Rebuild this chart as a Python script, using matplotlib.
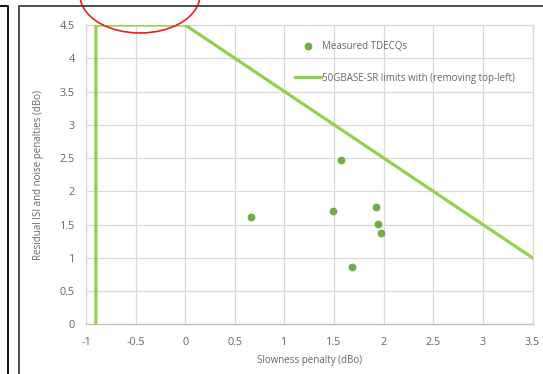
import matplotlib
matplotlib.use("Agg")
import matplotlib.pyplot as plt
from matplotlib.patches import Ellipse

# ── data ──────────────────────────────────────────────────────────────────────
tdecq_x = [0.66, 1.49, 1.57, 1.68, 1.92, 1.94, 1.97]
tdecq_y = [1.61, 1.70, 2.47, 0.86, 1.77, 1.51, 1.37]

limit_x = [-0.9, -0.9, 0.0, 3.5]
limit_y = [0.0, 4.5, 4.5, 1.0]

x_ticks = [-1, -0.5, 0, 0.5, 1, 1.5, 2, 2.5, 3, 3.5]
y_ticks = [0, 0.5, 1, 1.5, 2, 2.5, 3, 3.5, 4, 4.5]

# ── visual settings ───────────────────────────────────────────────────────────
W, H = 543, 374
text_gray = "#666666"
grid_gray = "#d9d9d9"
plt.rcParams.update({
    "font.family": ["Open Sans", "DejaVu Sans"],
    "font.size": 7,
})

fig = plt.figure(figsize=(W / 100, H / 100), dpi=100)
fig.patch.set_facecolor("white")

left, right, bottom, top = 86, 532.5, 324.3, 25
ax = fig.add_axes([left / W, 1 - bottom / H, (right - left) / W, (bottom - top) / H])

ax.plot(limit_x, limit_y, color="#92d050", lw=2.3, solid_joinstyle="miter",
        label="50GBASE-SR limits with (removing top-left)", zorder=3)
ax.plot(tdecq_x, tdecq_y, ls="none", marker="o", ms=4.6, color="#70ad47",
        mec="#70ad47", label="Measured TDECQs", zorder=4)

ax.set_xlim(-1, 3.5)
ax.set_ylim(0, 4.5)
ax.set_xticks(x_ticks)
ax.set_yticks(y_ticks)
ax.set_xticklabels([f"{v:g}" for v in x_ticks])
ax.set_yticklabels([f"{v:g}" for v in y_ticks])
ax.tick_params(length=0, colors=text_gray, labelsize=7.8)
ax.tick_params(axis="x", pad=9)
ax.tick_params(axis="y", pad=8)
ax.grid(True, color=grid_gray, lw=0.9)
ax.set_axisbelow(True)
for s in ax.spines.values():
    s.set_color(grid_gray)
    s.set_linewidth(0.9)
ax.spines["bottom"].set_color("#bfbfbf")

ax.set_xlabel("Slowness penalty (dBo)", color=text_gray, fontsize=7, labelpad=5)
ax.set_ylabel("Residual ISI and noise penalties (dBo)", color=text_gray, fontsize=7, labelpad=11)

handles, labels = ax.get_legend_handles_labels()
ax.legend(handles[::-1], labels[::-1], loc="upper left", bbox_to_anchor=(0.448, 0.975),
          frameon=False, fontsize=7, labelcolor=text_gray, handlelength=2.7,
          handletextpad=0.1, labelspacing=2.1)

# ── overlay: frames and the red ellipse (pixel coordinates) ─────────────────
ov = fig.add_axes([0, 0, 1, 1], zorder=10)
ov.set_xlim(0, W)
ov.set_ylim(H, 0)
ov.axis("off")
ov.patch.set_alpha(0)
ov.plot([0, 7.5, 7.5], [5.5, 5.5, H], color="black", lw=1.3)
ov.plot([18.5, 18.5, W], [H, 5.5, 5.5], color="#404040", lw=1.3)
ov.add_patch(Ellipse((140, -5), 120, 76, fill=False, edgecolor="#ee1c1c", lw=1.2))

fig.savefig("out.png", dpi=100)
